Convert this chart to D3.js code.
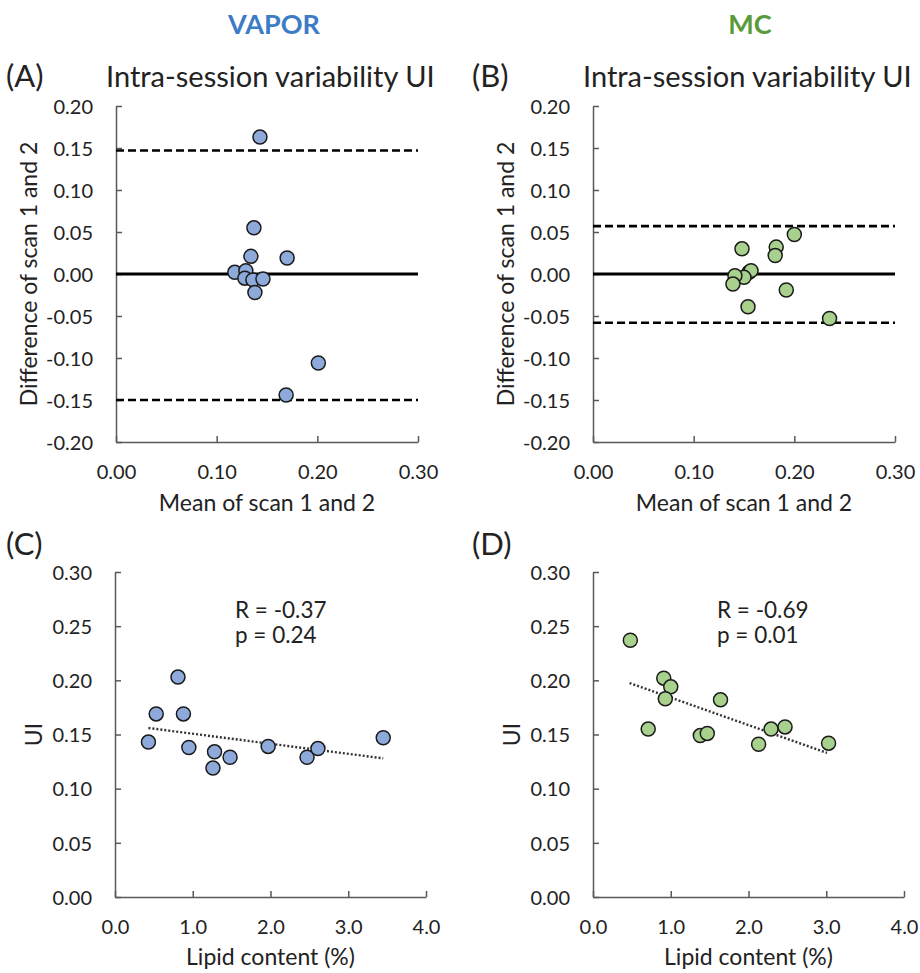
<!DOCTYPE html>
<html>
<head>
<meta charset="utf-8">
<script src="https://cdn.jsdelivr.net/npm/d3@7"></script>
<style>
  body { margin: 0; background: #fff; }
  svg text { font-family: Lato, "Open Sans", sans-serif; fill: #222; }
</style>
</head>
<body>
<div id="chart"></div>
<script>
// Bland-Altman data (mean of scan 1 and 2, difference of scan 1 and 2)
const vaporMean = [0.143, 0.137, 0.134, 0.170, 0.118, 0.129, 0.128, 0.136, 0.146, 0.138, 0.201, 0.169];
const vaporDiff = [0.163, 0.055, 0.021, 0.019, 0.002, 0.004, -0.005, -0.007, -0.006, -0.022, -0.106, -0.144];
const vaporLimits = [0.147, -0.150];

const mcMean = [0.148, 0.182, 0.181, 0.200, 0.155, 0.157, 0.150, 0.141, 0.139, 0.154, 0.192, 0.235];
const mcDiff = [0.030, 0.032, 0.022, 0.047, 0.002, 0.004, -0.004, -0.002, -0.012, -0.039, -0.019, -0.053];
const mcLimits = [0.057, -0.058];

// UI vs lipid content
const vaporLipid = [0.43, 0.53, 0.81, 0.88, 0.95, 1.26, 1.28, 1.48, 1.97, 2.47, 2.61, 3.45];
const vaporUI = [0.143, 0.169, 0.203, 0.169, 0.138, 0.119, 0.134, 0.129, 0.139, 0.129, 0.137, 0.147];
const vaporTrendX = [0.43, 3.45];
const vaporTrendY = [0.156, 0.128];
const vaporStats = ["R = -0.37", "p = 0.24"];

const mcLipid = [0.48, 0.71, 0.91, 1.00, 0.93, 1.64, 1.38, 1.47, 2.13, 2.29, 2.47, 3.03];
const mcUI = [0.237, 0.155, 0.202, 0.194, 0.183, 0.182, 0.149, 0.151, 0.141, 0.155, 0.157, 0.142];
const mcTrendX = [0.47, 3.01];
const mcTrendY = [0.1975, 0.133];
const mcStats = ["R = -0.69", "p = 0.01"];

// ticks
const baTicksX = [0, 0.1, 0.2, 0.3];
const baTicksY = [-0.20, -0.15, -0.10, -0.05, 0, 0.05, 0.10, 0.15, 0.20];
const lipidTicksX = [0, 1, 2, 3, 4];
const uiTicksY = [0, 0.05, 0.10, 0.15, 0.20, 0.25, 0.30];

const width = 920, height = 973;
const blue = "#8eaadb", green = "#a9d18e";

// plain hyphen for negatives, like the original
const locale = d3.formatLocale({ decimal: ".", thousands: ",", grouping: [3], currency: ["", ""], minus: "-" });

const svg = d3.select("#chart").append("svg")
    .attr("width", width)
    .attr("height", height);

function drawPanel(p) {
    const x = d3.scaleLinear().domain(p.xDomain).range([p.x0, p.x1]);
    const y = d3.scaleLinear().domain(p.yDomain).range([p.y1, p.y0]);
    const g = svg.append("g");

    // axes with inward ticks
    const xAxis = d3.axisBottom(x).tickValues(p.xTicks).tickFormat(locale.format(p.xFmt))
        .tickSizeInner(-6).tickSizeOuter(0).tickPadding(23);
    const yAxis = d3.axisLeft(y).tickValues(p.yTicks).tickFormat(locale.format(".2f"))
        .tickSizeInner(-6).tickSizeOuter(0).tickPadding(23);

    const gx = g.append("g").attr("transform", `translate(0,${p.y1})`).call(xAxis);
    const gy = g.append("g").attr("transform", `translate(${p.x0},0)`).call(yAxis);
    [gx, gy].forEach(a => {
        a.selectAll("path, line").attr("stroke", "#595959").attr("stroke-width", 1.5);
        a.selectAll("text").attr("font-size", 20).attr("fill", "#222")
            .style("font-family", "Lato, 'Open Sans', sans-serif");
    });
    gy.selectAll("text").attr("dy", "0.36em");

    // reference lines (Bland-Altman)
    if (p.limits) {
        g.append("line")
            .attr("x1", x(p.xDomain[0])).attr("x2", x(p.xDomain[1]))
            .attr("y1", y(0)).attr("y2", y(0))
            .attr("stroke", "#000").attr("stroke-width", 3);
        g.selectAll(".lim").data(p.limits).join("line")
            .attr("x1", x(p.xDomain[0])).attr("x2", x(p.xDomain[1]))
            .attr("y1", d => y(d)).attr("y2", d => y(d))
            .attr("stroke", "#000").attr("stroke-width", 2.6)
            .attr("stroke-dasharray", "8,4");
    }

    // trend line
    if (p.trendX) {
        g.append("line")
            .attr("x1", x(p.trendX[0])).attr("y1", y(p.trendY[0]))
            .attr("x2", x(p.trendX[1])).attr("y2", y(p.trendY[1]))
            .attr("stroke", "#333").attr("stroke-width", 2.4)
            .attr("stroke-dasharray", "2,2");
    }

    // points
    g.selectAll("circle").data(p.xs.map((v, i) => [v, p.ys[i]])).join("circle")
        .attr("cx", d => x(d[0]))
        .attr("cy", d => y(d[1]))
        .attr("r", 7)
        .attr("fill", p.color)
        .attr("stroke", "#1a1a1a")
        .attr("stroke-width", 1.5);

    // stats
    if (p.stats) {
        g.selectAll(".stat").data(p.stats).join("text")
            .attr("x", p.statX).attr("y", (d, i) => 618 + i * 25)
            .attr("font-size", 22.5).text(d => d);
    }

    // axis titles
    g.append("text")
        .attr("x", (p.x0 + p.x1) / 2).attr("y", p.xTitleY)
        .attr("text-anchor", "middle").attr("font-size", 23)
        .text(p.xTitle);
    g.append("text")
        .attr("transform", `translate(${p.yTitleX},${(p.y0 + p.y1) / 2}) rotate(-90)`)
        .attr("text-anchor", "middle").attr("font-size", 23)
        .text(p.yTitle);

    // panel label
    g.append("text").attr("x", p.labelX).attr("y", p.labelY)
        .attr("font-size", 31).text(p.label);
    if (p.title) {
        g.append("text").attr("x", p.titleX).attr("y", p.labelY)
            .attr("font-size", 29).text(p.title);
    }
}

drawPanel({
    xs: vaporMean, ys: vaporDiff, color: blue, limits: vaporLimits,
    xDomain: [0, 0.3], yDomain: [-0.2, 0.2], xTicks: baTicksX, yTicks: baTicksY, xFmt: ".2f",
    x0: 116, x1: 418, y0: 106, y1: 442,
    xTitle: "Mean of scan 1 and 2", xTitleY: 511,
    yTitle: "Difference of scan 1 and 2", yTitleX: 37,
    label: "(A)", labelX: 6, labelY: 87,
    title: "Intra-session variability UI", titleX: 106
});
drawPanel({
    xs: mcMean, ys: mcDiff, color: green, limits: mcLimits,
    xDomain: [0, 0.3], yDomain: [-0.2, 0.2], xTicks: baTicksX, yTicks: baTicksY, xFmt: ".2f",
    x0: 593, x1: 895, y0: 106, y1: 442,
    xTitle: "Mean of scan 1 and 2", xTitleY: 511,
    yTitle: "Difference of scan 1 and 2", yTitleX: 514,
    label: "(B)", labelX: 472, labelY: 87,
    title: "Intra-session variability UI", titleX: 583
});
drawPanel({
    xs: vaporLipid, ys: vaporUI, color: blue, trendX: vaporTrendX, trendY: vaporTrendY,
    stats: vaporStats, statX: 235,
    xDomain: [0, 4], yDomain: [0, 0.3], xTicks: lipidTicksX, yTicks: uiTicksY, xFmt: ".1f",
    x0: 115, x1: 426, y0: 572, y1: 897,
    xTitle: "Lipid content (%)", xTitleY: 965,
    yTitle: "UI", yTitleX: 42,
    label: "(C)", labelX: 6, labelY: 555
});
drawPanel({
    xs: mcLipid, ys: mcUI, color: green, trendX: mcTrendX, trendY: mcTrendY,
    stats: mcStats, statX: 717,
    xDomain: [0, 4], yDomain: [0, 0.3], xTicks: lipidTicksX, yTicks: uiTicksY, xFmt: ".1f",
    x0: 593, x1: 904, y0: 572, y1: 897,
    xTitle: "Lipid content (%)", xTitleY: 965,
    yTitle: "UI", yTitleX: 520,
    label: "(D)", labelX: 472, labelY: 555
});

// group headers
svg.append("text").attr("x", 274).attr("y", 34).attr("text-anchor", "middle")
    .attr("font-size", 27).attr("font-weight", "bold").style("fill", "#3b7cc4").text("VAPOR");
svg.append("text").attr("x", 750).attr("y", 34).attr("text-anchor", "middle")
    .attr("font-size", 27).attr("font-weight", "bold").style("fill", "#5a9a3a").text("MC");
</script>
</body>
</html>
